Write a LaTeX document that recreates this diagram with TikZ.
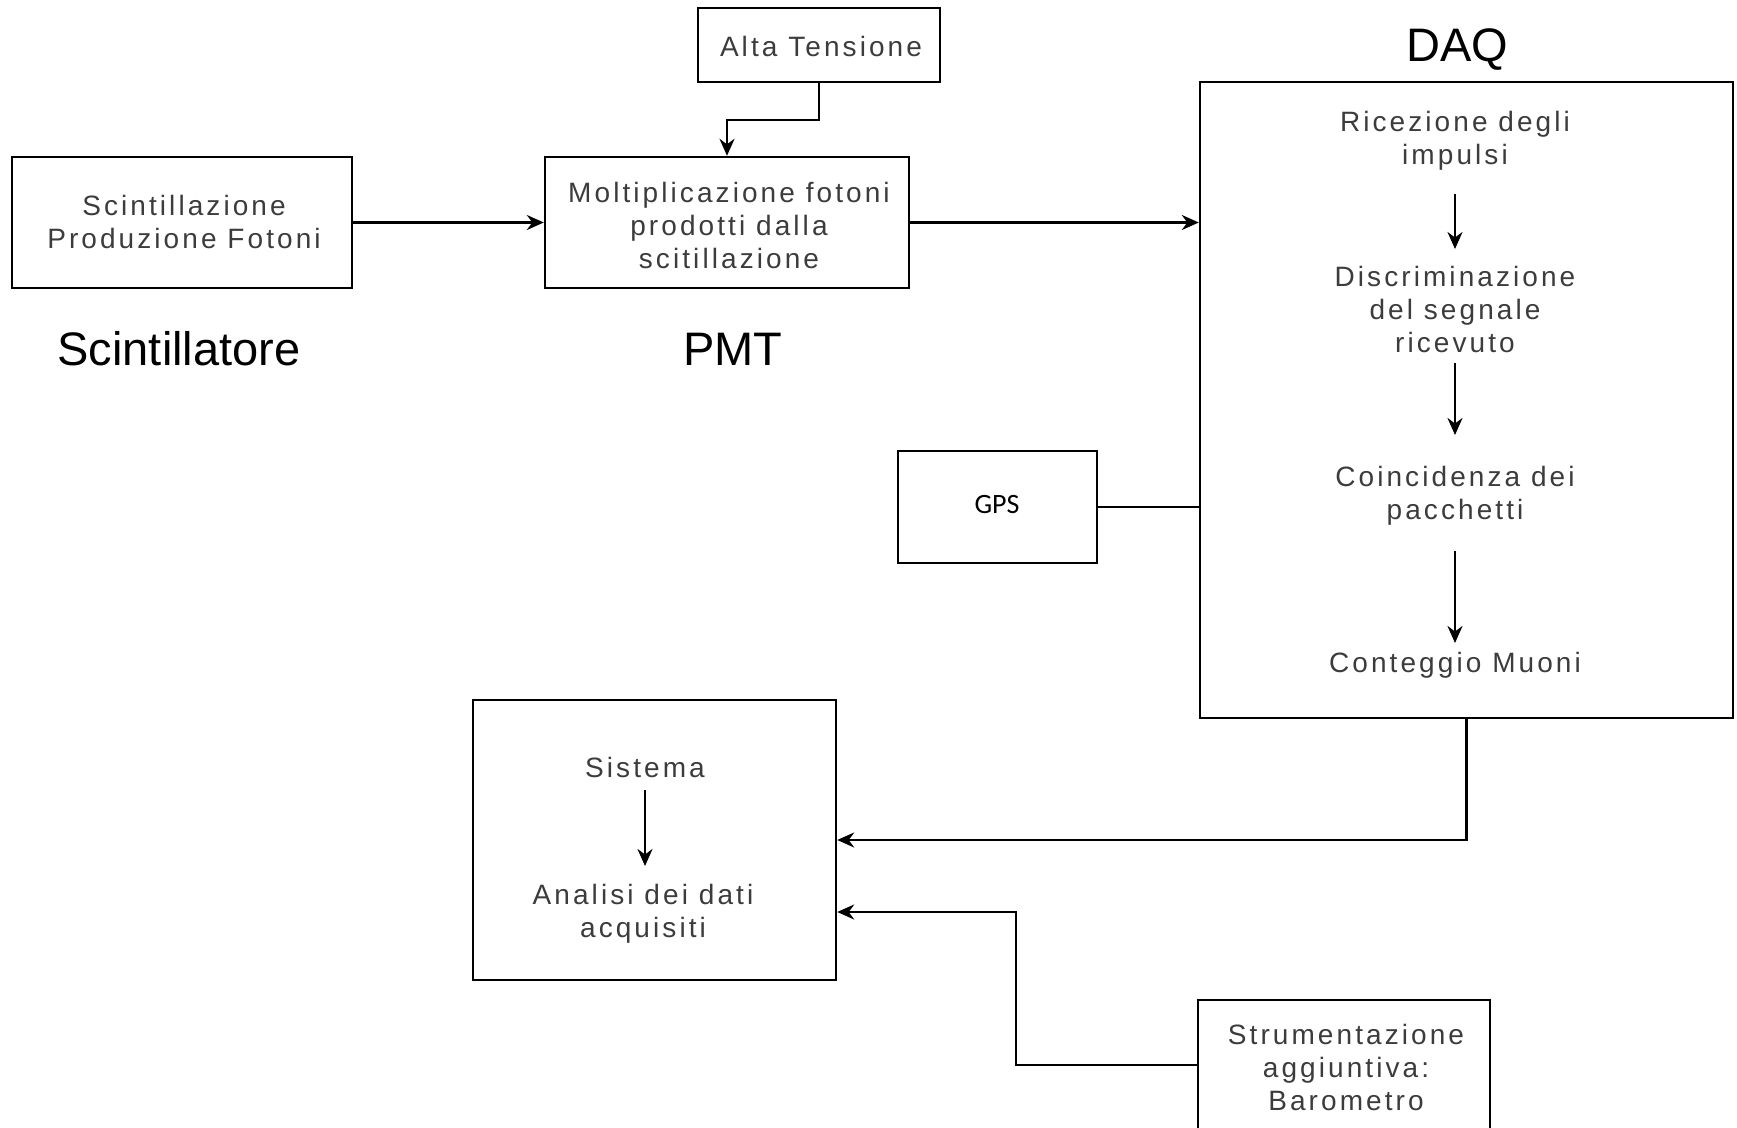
\documentclass[tikz,border=0pt]{standalone}
\usepackage{fontspec}
\setmainfont{Liberation Sans}
\newfontfamily\boxfont[LetterSpace=11]{Liberation Sans}
\newfontfamily\gpsfont{Carlito}
\usetikzlibrary{arrows.meta,calc}
\definecolor{txtgray}{HTML}{3C3C3C}
\tikzset{
  blk/.style={draw=black,line width=2.4pt,inner sep=0pt,fill=none},
  intext/.style={text=txtgray,align=center,inner sep=0pt,font=\boxfont\fontsize{28}{33}\selectfont},
  lbl/.style={text=black,inner sep=0pt,font=\fontsize{47}{54}\selectfont},
  arr/.style={line width=2.4pt,-{Stealth[length=17pt,width=15pt]}},
  ln/.style={line width=2.4pt}
}
\begin{document}
\begin{tikzpicture}[x=1pt,y=-1pt]
\useasboundingbox (0,0) rectangle (1737,1127);
\clip (0,0) rectangle (1737,1127);
% boxes
\node[blk,minimum width=340,minimum height=131] (scint) at (182,222.5) {};
\node[blk,minimum width=242,minimum height=74] (alta) at (819,45) {};
\node[blk,minimum width=364,minimum height=131] (pmt) at (727,222.5) {};
\node[blk,minimum width=533,minimum height=636] (daq) at (1466.5,400) {};
\node[blk,minimum width=199,minimum height=112] (gps) at (997.5,507) {};
\node[blk,minimum width=363,minimum height=280] (sis) at (654.5,840) {};
\node[blk,minimum width=292,minimum height=130] (baro) at (1344,1065) {};
% box texts
\node[intext] (scintt) at (184,222) {Scintillazione\\Produzione Fotoni};
\node[intext] (altat) at (821,46) {Alta Tensione};
\node[intext] (pmtt) at (729,225) {Moltiplicazione fotoni\\prodotti dalla\\scitillazione};
\node[text=black,inner sep=0pt,font=\gpsfont\fontsize{28}{32}\selectfont] (gpst) at (997,505) {GPS};
\node[intext] (ric) at (1455,141) {Ricezione degli\\impulsi};
\node[intext] (dis) at (1455,309) {Discriminazione\\del segnale\\ricevuto};
\node[intext] (coi) at (1455,496) {Coincidenza dei\\pacchetti};
\node[intext] (con) at (1455,665) {Conteggio Muoni};
\node[intext] (sist) at (645,767) {Sistema};
\node[intext] (ana) at (643,914) {Analisi dei dati\\acquisiti};
\node[intext] (barot) at (1346,1067) {Strumentazione\\aggiuntiva:\\Barometro};
% labels
\node[lbl] (lscint) at (179,349) {Scintillatore};
\node[lbl] (lpmt) at (733,349) {PMT};
\node[lbl] (ldaq) at (1457,50) {DAQ};
% connectors
\draw[arr] (scint) -- (pmt);
\draw[arr] (pmt.east) -- (pmt.east -| daq.west);
\draw[arr] (alta.south) -- ++(0,37) -| (pmt.north);
\draw[ln] (gps.east) -- (gps.east -| daq.west);
\draw[arr] (daq.south) |- (sis.east);
\draw[arr] (baro.west) -- ++(-181,0) |- ([yshift=-72pt]sis.east);
% inner arrows
\draw[arr,shorten <=53pt,shorten >=60pt] (ric.center) -- (dis.center);
\draw[arr,shorten <=54pt,shorten >=61pt] (dis.center) -- (coi.center);
\draw[arr,shorten <=55pt,shorten >=22pt] (coi.center) -- (con.center);
\draw[arr,shorten <=23pt,shorten >=48pt] (sist.center) -- (sist.center |- ana.center);
\end{tikzpicture}
\end{document}
